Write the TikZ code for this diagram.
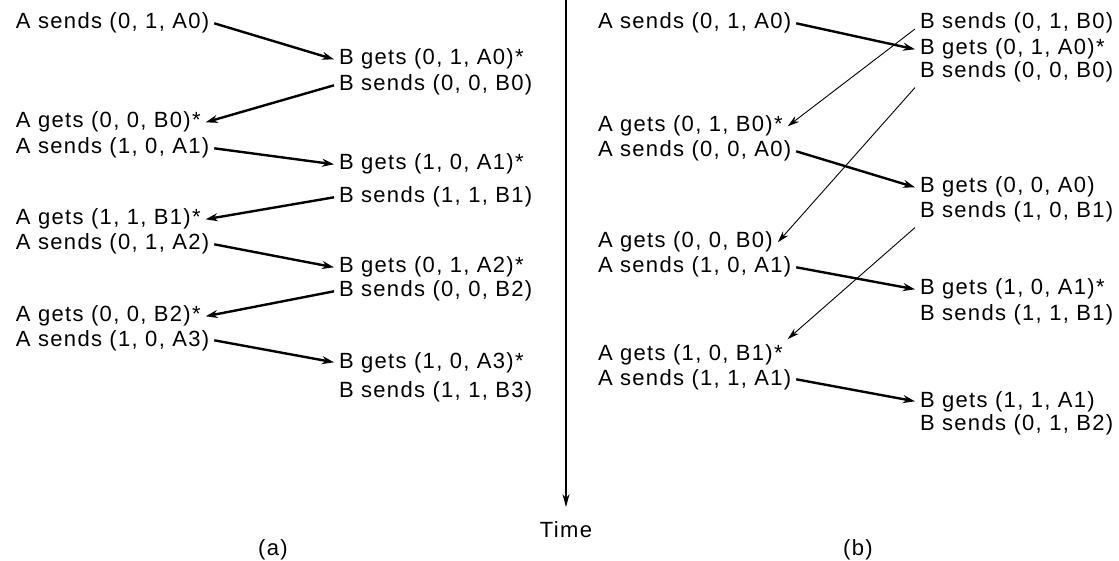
\documentclass[tikz,border=0pt]{standalone}
\usepackage{fontspec}
\setmainfont{Liberation Sans}[LetterSpace=6]
\usetikzlibrary{arrows.meta}

\begin{document}
\begin{tikzpicture}[x=1pt,y=-1pt,
    txt/.style={anchor=base west, inner sep=0pt, outer sep=5pt},
    msg/.style={-{Stealth[length=12pt,width=8pt]}, line width=2.4pt},
    late/.style={-{Stealth[length=12pt,width=7pt]}, line width=0.9pt}]
\fontsize{22}{26}\selectfont
\useasboundingbox (0,0) rectangle (1119,561);
\node[txt] (l1) at (11,29) {A sends (0, 1, A0)};
\node[txt] (l2) at (334,65) {B gets (0, 1, A0)*};
\node[txt] (l3) at (334,91) {B sends (0, 0, B0)};
\node[txt] (l4) at (11,128) {A gets (0, 0, B0)*};
\node[txt] (l5) at (11,154) {A sends (1, 0, A1)};
\node[txt] (l6) at (334,170) {B gets (1, 0, A1)*};
\node[txt] (l7) at (334,203) {B sends (1, 1, B1)};
\node[txt] (l8) at (11,225) {A gets (1, 1, B1)*};
\node[txt] (l9) at (11,250) {A sends (0, 1, A2)};
\node[txt] (l10) at (334,273) {B gets (0, 1, A2)*};
\node[txt] (l11) at (334,297) {B sends (0, 0, B2)};
\node[txt] (l12) at (11,322) {A gets (0, 0, B2)*};
\node[txt] (l13) at (11,346) {A sends (1, 0, A3)};
\node[txt] (l14) at (334,368) {B gets (1, 0, A3)*};
\node[txt] (l15) at (334,397) {B sends (1, 1, B3)};
\draw[msg] (l1.east) -- (l2.west);
\draw[msg] (l3.west) -- (l4.east);
\draw[msg] (l5.east) -- (l6.west);
\draw[msg] (l7.west) -- (l8.east);
\draw[msg] (l9.east) -- (l10.west);
\draw[msg] (l11.west) -- (l12.east);
\draw[msg] (l13.east) -- (l14.west);

\node[txt] (r1) at (593,29) {A sends (0, 1, A0)};
\node[txt] (r2) at (915,29) {B sends (0, 1, B0)};
\node[txt] (r3) at (915,55) {B gets (0, 1, A0)*};
\node[txt] (r4) at (915,78) {B sends (0, 0, B0)};
\node[txt] (r5) at (593,132) {A gets (0, 1, B0)*};
\node[txt] (r6) at (593,157) {A sends (0, 0, A0)};
\node[txt] (r7) at (915,193) {B gets (0, 0, A0)};
\node[txt] (r8) at (915,218) {B sends (1, 0, B1)};
\node[txt] (r9) at (593,248) {A gets (0, 0, B0)};
\node[txt] (r10) at (593,273) {A sends (1, 0, A1)};
\node[txt] (r11) at (915,295) {B gets (1, 0, A1)*};
\node[txt] (r12) at (915,320) {B sends (1, 1, B1)};
\node[txt] (r13) at (593,360) {A gets (1, 0, B1)*};
\node[txt] (r14) at (593,385) {A sends (1, 1, A1)};
\node[txt] (r15) at (915,407) {B gets (1, 1, A1)};
\node[txt] (r16) at (915,430) {B sends (0, 1, B2)};
\draw[msg] (r1.east) -- (r3.west);
\draw[msg] (r6.east) -- (r7.west);
\draw[msg] (r10.east) -- (r11.west);
\draw[msg] (r14.east) -- (r15.west);
\draw[late] (r2.base west) -- (r5.east);
\draw[late] (r4.south west) -- (r9.east);
\draw[late] (r8.south west) -- (r13.north east);

\coordinate (t0) at (566,0);
\node[anchor=base, inner sep=0pt, outer ysep=14pt] (time) at (566,537) {Time};
\draw[-{Stealth[length=13pt,width=7pt]}, line width=1.3pt] (t0) -- (time.north);
\node[anchor=base] (capa) at (273,555) {(a)};
\node[anchor=base] (capb) at (858,555) {(b)};
\end{tikzpicture}
\end{document}
